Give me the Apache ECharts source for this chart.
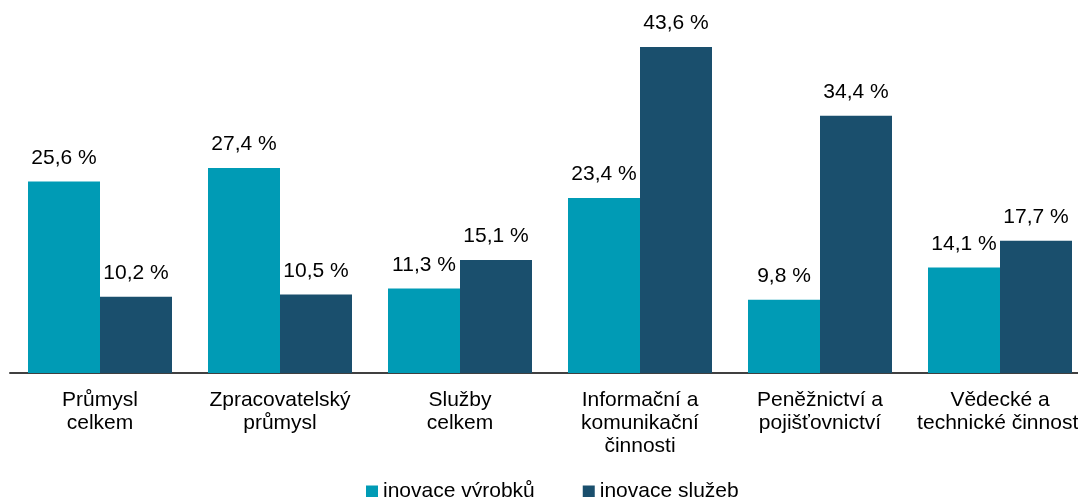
<!DOCTYPE html>
<html>
<head>
<meta charset="utf-8">
<script src="https://cdn.jsdelivr.net/npm/echarts@6/dist/echarts.min.js"></script>
<style>
  html, body { margin: 0; padding: 0; background: #fff; }
  #chart { width: 1078px; height: 497px; }
</style>
</head>
<body>
<div id="chart"></div>
<script>
const categories = [
  "Průmysl\ncelkem",
  "Zpracovatelský\nprůmysl",
  "Služby\ncelkem",
  "Informační a\nkomunikační\nčinnosti",
  "Peněžnictví a\npojišťovnictví",
  "Vědecké a\ntechnické činnosti",
];
const seriesNames = ["inovace výrobků", "inovace služeb"];
const productInnovation = [25.6, 27.4, 11.3, 23.4, 9.8, 14.1];
const serviceInnovation = [10.2, 10.5, 15.1, 43.6, 34.4, 17.7];

const font = "Liberation Sans, Arial, sans-serif";

const chart = echarts.init(document.getElementById("chart"));

const labelOpt = {
  show: true,
  position: "top",
  distance: 13,
  color: "#000",
  fontSize: 21,
  fontFamily: font,
  formatter: (p) => p.value.toFixed(1).replace(".", ",") + " %",
};

chart.setOption({
  animation: false,
  grid: {
    left: 10,
    top: 36.5,
    width: 1080,
    height: 336.5,
    containLabel: false,
    outerBoundsMode: "none",
  },
  legend: {
    data: seriesNames,
    left: 361,
    top: 476,
    icon: "rect",
    itemWidth: 12,
    itemHeight: 12,
    itemGap: 48,
    textStyle: { fontSize: 21, fontFamily: font, color: "#000" },
  },
  xAxis: {
    type: "category",
    data: categories,
    axisLine: { lineStyle: { color: "#404040", width: 2 } },
    axisTick: { show: false },
    axisLabel: {
      interval: 0,
      margin: 16,
      fontSize: 21,
      lineHeight: 23,
      fontFamily: font,
      color: "#000",
    },
  },
  yAxis: {
    type: "value",
    min: 0,
    max: 45,
    show: false,
    splitLine: { show: false },
  },
  series: [
    {
      name: seriesNames[0],
      type: "bar",
      data: productInnovation,
      barGap: "0%",
      barCategoryGap: "20%",
      itemStyle: { color: "#009bb5" },
      label: labelOpt,
    },
    {
      name: seriesNames[1],
      type: "bar",
      data: serviceInnovation,
      itemStyle: { color: "#1a4f6d" },
      label: labelOpt,
    },
  ],
});
</script>
</body>
</html>
